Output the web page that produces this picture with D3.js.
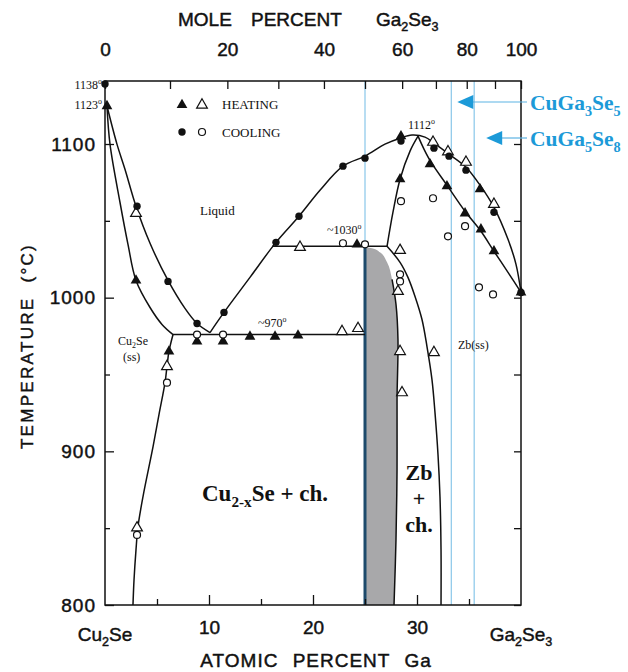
<!DOCTYPE html>
<html>
<head>
<meta charset="utf-8">
<script src="https://cdn.jsdelivr.net/npm/d3@7"></script>
<style>
  body { margin: 0; background: #fff; }
  svg text { font-family: "Liberation Sans", Arial, sans-serif; fill: #111; }
  svg text.sans { stroke: #111; stroke-width: 0.45px; }
  svg text.serif { font-family: "Liberation Serif", "Times New Roman", serif; }
</style>
</head>
<body>
<div id="chart"></div>
<script>
// composition in at.% Ga, temperature in degC
const tempMajor = [800, 900, 1000, 1100];
const tempMinor = [850, 950, 1050];
const atMajor = [10, 20, 30];
const atMinor = [5, 15, 25, 35];
const moleTicks = [0, 10, 20, 30, 40, 50, 60, 70, 80, 90, 100];
const moleLabels = [0, 20, 40, 60, 80, 100];
const compoundLines = [25, 33.3, 35.5]; // CuGaSe2, CuGa3Se5, CuGa5Se8

// phase boundaries
const liquidusUpperLeft = [[0.19, 1124.7], [1.15, 1099.9], [1.92, 1083.6], [2.98, 1059.5], [4.33, 1035.4],
  [6.06, 1011.2], [7.69, 993.0], [8.85, 983.2], [10.1, 977.3]];
const liquidusLowerLeft = [[0.19, 1124.7], [0.48, 1099.9], [1.44, 1062.1], [2.21, 1034.7], [2.98, 1011.2],
  [4.33, 993.6], [5.48, 982.6], [6.54, 976.0]];
const liquidusDome = [[10.1, 977.3], [11.44, 990.4], [13.94, 1013.2], [16.44, 1036.0], [18.65, 1053.0],
  [20.67, 1069.9], [22.88, 1085.6], [25.0, 1092.1], [26.92, 1099.9], [28.37, 1103.8], [29.52, 1105.8],
  [30.77, 1104.5], [31.63, 1100.6], [33.08, 1093.4], [34.71, 1084.9], [36.06, 1073.2], [37.4, 1058.8],
  [38.75, 1038.0], [39.52, 1021.7], [40, 1003.4]];
const solidusRight = [[30.1, 1105.1], [30.67, 1096.7], [31.35, 1088.2], [32.88, 1073.2], [34.62, 1056.2],
  [36.15, 1043.2], [37.4, 1030.2], [38.75, 1016.5], [40, 1003.4]];
const solidusLeft = [[30.1, 1105.1], [29.33, 1095.4], [28.37, 1077.1], [27.69, 1055.6], [27.12, 1033.4]];
const plateau1030 = [[16.06, 1033.4], [27.12, 1033.4]];
const plateau970 = [[6.54, 976.0], [25.0, 976.0]];
const cu2seSolvus = [[6.54, 976.0], [6.15, 965.0], [5.96, 955.2], [5.77, 944.7], [5.19, 923.9], [4.62, 903.0],
  [3.65, 870.4], [3.17, 850.9], [2.98, 835.9], [2.79, 816.3], [2.69, 800]];
const zbSolvus = [[27.12, 1033.4], [28.37, 1023.0], [29.13, 1013.2], [29.81, 1000.8], [30.48, 985.8],
  [30.96, 968.2], [31.44, 946.7], [31.73, 925.2], [32.02, 897.8], [32.21, 870.4], [32.31, 835.9], [32.31, 800]];
const chalcoEdge = [[25.0, 1032.8], [25.67, 1032.2], [26.44, 1029.5], [27.12, 1023.0], [27.6, 1011.9],
  [27.98, 995.6], [28.17, 972.8], [28.08, 933.7], [28.08, 888.1], [27.98, 842.4], [27.79, 800]];

// measured points
const heatFilled = [[0.19, 1124.7], [2.98, 1011.2], [6.15, 965.0], [8.85, 971.5], [11.35, 971.5], [13.94, 974.7],
  [16.35, 974.7], [18.56, 975.4], [24.23, 1034.7], [28.46, 1105.1], [28.37, 1077.1], [31.25, 1086.9],
  [32.88, 1072.5], [34.62, 1054.9], [36.15, 1044.5], [36.06, 1070.6], [37.4, 1030.2], [40, 1003.4]];
const heatOpen = [[2.98, 1054.9], [5.96, 955.2], [3.08, 850.2], [22.79, 978.0], [24.33, 980.0], [18.75, 1032.8],
  [31.54, 1101.2], [32.98, 1095.0], [34.71, 1088.2], [37.4, 1060.8], [28.37, 1030.8], [28.17, 1004.1],
  [28.37, 965.0], [31.63, 964.3], [28.56, 938.2]];
const coolFilled = [[0, 1139.0], [3.08, 1059.5], [6.06, 1010.6], [8.85, 983.2], [11.44, 990.4], [16.44, 1036.0],
  [18.65, 1053.0], [22.88, 1085.6], [25.0, 1090.8], [28.46, 1101.9], [31.63, 1097.3], [33.08, 1092.1],
  [34.71, 1083.0], [37.4, 1055.6], [40, 1003.4]];
const coolOpen = [[3.08, 845.6], [5.96, 944.7], [8.85, 976.0], [11.35, 976.0], [22.88, 1035.4], [25.0, 1034.7],
  [28.37, 1015.2], [28.37, 1010.6], [28.46, 1062.8], [31.54, 1064.7], [32.98, 1039.9], [34.62, 1046.5],
  [35.96, 1006.7], [37.31, 1002.1]];

// mole % Ga2Se3 -> at.% Ga
function moleToAt(m) {
    return 200 * m / (300 + 2 * m);
}

// text with sub/superscripts, parts are strings or [string, "sub"|"sup"]
function richText(sel, parts, size) {
    const t = sel.append("text").attr("font-size", size);
    let shift = 0;
    parts.forEach(p => {
        const s = typeof p === "string" ? p : p[0];
        const mode = typeof p === "string" ? null : p[1];
        const target = mode === "sub" ? size * 0.28 : mode === "sup" ? -size * 0.45 : 0;
        t.append("tspan")
            .attr("dy", target - shift)
            .attr("font-size", mode ? size * 0.66 : size)
            .text(s);
        shift = target;
    });
    return t;
}

function drawChart() {
    const svg = d3.select("#chart").append("svg")
        .attr("width", 628)
        .attr("height", 672);

    const x = d3.scaleLinear().domain([0, 40]).range([105, 521]);
    const y = d3.scaleLinear().domain([800, 1141]).range([605, 81]);

    const line = d3.line()
        .x(d => x(d[0]))
        .y(d => y(d[1]))
        .curve(d3.curveCatmullRom.alpha(0.5));

    // grey chalcopyrite field
    svg.append("path")
        .datum(chalcoEdge)
        .attr("fill", "#a8a8aa")
        .attr("d", d3.area()
            .y(d => y(d[1]))
            .x0(x(25))
            .x1(d => x(d[0]))
            .curve(d3.curveMonotoneY));

    // compound composition lines
    svg.selectAll(".comp")
        .data(compoundLines)
        .join("line")
        .attr("x1", d => x(d)).attr("x2", d => x(d))
        .attr("y1", y(1141)).attr("y2", y(800))
        .attr("stroke", "#92cbeb")
        .attr("stroke-width", 1.3);

    svg.append("line")
        .attr("x1", x(25)).attr("x2", x(25))
        .attr("y1", y(1033.4)).attr("y2", y(800))
        .attr("stroke", "#1d4a6b")
        .attr("stroke-width", 3);

    // phase boundaries
    const curves = [liquidusUpperLeft, liquidusLowerLeft, liquidusDome, solidusRight, solidusLeft,
        plateau1030, plateau970, cu2seSolvus, zbSolvus, chalcoEdge.slice(4)];
    svg.selectAll(".boundary")
        .data(curves)
        .join("path")
        .attr("class", "boundary")
        .attr("fill", "none")
        .attr("stroke", "#111")
        .attr("stroke-width", 1.5)
        .attr("d", line);

    // frame
    svg.append("rect")
        .attr("x", x(0)).attr("y", y(1141))
        .attr("width", x(40) - x(0)).attr("height", y(800) - y(1141))
        .attr("fill", "none").attr("stroke", "#111").attr("stroke-width", 1.5);

    const axisFont = g => g.attr("font-size", 19).attr("font-family", null)
        .call(g => g.select(".domain").remove())
        .call(g => g.selectAll("text").attr("class", "sans"))
        .call(g => g.selectAll("line").attr("stroke", "#111").attr("stroke-width", 1.3));

    // left axis
    svg.append("g").attr("transform", `translate(${x(0)},0)`)
        .call(d3.axisLeft(y).tickValues(tempMajor).tickSize(-9).tickPadding(9).tickFormat(d3.format("d")))
        .call(axisFont)
        .call(g => g.selectAll("text").attr("letter-spacing", 1));
    svg.append("g").attr("transform", `translate(${x(0)},0)`)
        .call(d3.axisLeft(y).tickValues(tempMinor).tickSize(-5).tickFormat(""))
        .call(axisFont);
    // right axis
    svg.append("g").attr("transform", `translate(${x(40)},0)`)
        .call(d3.axisRight(y).tickValues(tempMajor.concat(tempMinor)).tickSize(-7).tickFormat(""))
        .call(axisFont);

    // bottom axis, at.% Ga
    svg.append("g").attr("transform", `translate(0,${y(800)})`)
        .call(d3.axisBottom(x).tickValues(atMajor).tickSize(-10).tickPadding(16))
        .call(axisFont);
    svg.append("g").attr("transform", `translate(0,${y(800)})`)
        .call(d3.axisBottom(x).tickValues(atMinor).tickSize(-6).tickFormat(""))
        .call(axisFont);

    // top axis, mole % Ga2Se3
    svg.append("g").attr("transform", `translate(0,${y(1141)})`)
        .call(d3.axisTop(x).tickValues(moleTicks.map(moleToAt)).tickSize(-8).tickPadding(25)
            .tickFormat((d, i) => moleLabels.includes(moleTicks[i]) ? moleTicks[i] : ""))
        .call(axisFont);

    // axis titles
    svg.append("text").attr("class", "sans").attr("x", 178).attr("y", 26).attr("font-size", 19).text("MOLE");
    svg.append("text").attr("class", "sans").attr("x", 251).attr("y", 26).attr("font-size", 19).text("PERCENT");
    richText(svg.append("g").attr("transform", "translate(376,26)"), ["Ga", ["2", "sub"], "Se", ["3", "sub"]], 19)
        .attr("class", "sans");

    svg.append("text")
        .attr("class", "sans")
        .attr("x", 316).attr("y", 667)
        .attr("text-anchor", "middle")
        .attr("font-size", 19)
        .attr("letter-spacing", 1)
        .attr("word-spacing", 8)
        .text("ATOMIC PERCENT Ga");

    svg.append("text")
        .attr("class", "sans")
        .attr("transform", "translate(33,346) rotate(-90)")
        .attr("text-anchor", "middle")
        .attr("font-size", 17)
        .attr("letter-spacing", 2.3)
        .text("TEMPERATURE\u00a0\u00a0(\u00b0C)");

    richText(svg.append("g").attr("transform", `translate(${x(0)},641)`), ["Cu", ["2", "sub"], "Se"], 19)
        .attr("class", "sans").attr("text-anchor", "middle");
    richText(svg.append("g").attr("transform", `translate(${x(40)},641)`), ["Ga", ["2", "sub"], "Se", ["3", "sub"]], 19)
        .attr("class", "sans").attr("text-anchor", "middle");

    // data markers
    const tri = d3.symbol().type(d3.symbolTriangle).size(50)();
    const pos = d => `translate(${x(d[0])},${y(d[1])})`;
    svg.selectAll(".hf").data(heatFilled).join("path")
        .attr("d", tri).attr("transform", pos).attr("fill", "#111");
    svg.selectAll(".ho").data(heatOpen).join("path")
        .attr("d", tri).attr("transform", pos).attr("fill", "#fff").attr("stroke", "#111").attr("stroke-width", 1.2);
    svg.selectAll(".cf").data(coolFilled).join("circle")
        .attr("cx", d => x(d[0])).attr("cy", d => y(d[1])).attr("r", 3.7).attr("fill", "#111");
    svg.selectAll(".co").data(coolOpen).join("circle")
        .attr("cx", d => x(d[0])).attr("cy", d => y(d[1])).attr("r", 3.5)
        .attr("fill", "#fff").attr("stroke", "#111").attr("stroke-width", 1.2);

    // legend
    svg.append("path").attr("d", tri).attr("transform", "translate(182,105)").attr("fill", "#111");
    svg.append("path").attr("d", tri).attr("transform", "translate(202,105)")
        .attr("fill", "#fff").attr("stroke", "#111").attr("stroke-width", 1.2);
    svg.append("circle").attr("cx", 182).attr("cy", 132).attr("r", 3.7).attr("fill", "#111");
    svg.append("circle").attr("cx", 202).attr("cy", 132).attr("r", 3.5)
        .attr("fill", "#fff").attr("stroke", "#111").attr("stroke-width", 1.2);
    svg.append("text").attr("class", "serif").attr("x", 222).attr("y", 109).attr("font-size", 13).text("HEATING");
    svg.append("text").attr("class", "serif").attr("x", 222).attr("y", 137).attr("font-size", 13).text("COOLING");

    // temperature notes
    const note = (parts, px, py, size, anchor) => richText(svg.append("g").attr("transform", `translate(${px},${py})`), parts, size)
        .attr("class", "serif").attr("text-anchor", anchor || "start");
    note(["1138", ["o", "sup"]], 102, 89, 12, "end");
    note(["1123", ["o", "sup"]], 102, 109, 12, "end");
    note(["1112", ["o", "sup"]], 408, 129, 12);
    note(["~1030", ["o", "sup"]], 327, 234, 12);
    note(["~970", ["o", "sup"]], 258, 327, 12);
    note(["Liquid"], 200, 215, 13);
    note(["Cu", ["2", "sub"], "Se"], 118, 345, 12);
    note(["(ss)"], 123, 361, 12);
    note(["Zb(ss)"], 458, 349, 12);

    // phase field labels
    note(["Cu", ["2-x", "sub"], "Se + ch."], 265, 501, 23, "middle").attr("font-weight", "bold");
    note(["Zb"], 419, 480, 22, "middle").attr("font-weight", "bold");
    note(["+"], 419, 506, 22, "middle").attr("font-weight", "bold");
    note(["ch."], 419, 532, 22, "middle").attr("font-weight", "bold");

    // compound arrows (the labels run up to the right edge)
    const arrows = [
        {comp: compoundLines[1], dx: 6, py: 102, parts: ["CuGa", ["3", "sub"], "Se", ["5", "sub"]]},
        {comp: compoundLines[2], dx: 12, py: 138, parts: ["CuGa", ["5", "sub"], "Se", ["8", "sub"]]}
    ];
    arrows.forEach(a => {
        const tip = x(a.comp) + a.dx;
        svg.append("line")
            .attr("x1", tip + 14).attr("x2", 527)
            .attr("y1", a.py).attr("y2", a.py)
            .attr("stroke", "#5cb3e3").attr("stroke-width", 1.2);
        svg.append("path")
            .attr("d", `M${tip},${a.py}L${tip + 16},${a.py - 7}L${tip + 16},${a.py + 7}Z`)
            .attr("fill", "#1c9ad8");
        richText(svg.append("g").attr("transform", `translate(530,${a.py + 8})`), a.parts, 21.5)
            .attr("class", "serif")
            .attr("font-weight", "bold")
            .style("fill", "#1c9ad8");
    });
}

function main() {
    drawChart();
}

main();
</script>
</body>
</html>
